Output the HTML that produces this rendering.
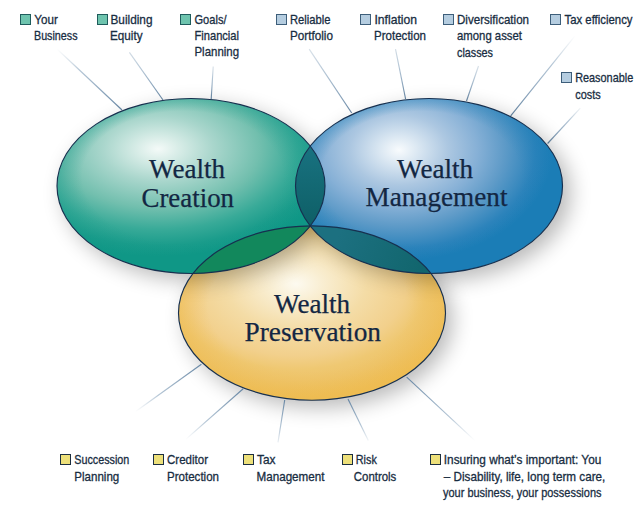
<!DOCTYPE html>
<html><head><meta charset="utf-8">
<style>
html,body{margin:0;padding:0;background:#fff;width:643px;height:512px;overflow:hidden}
svg{display:block}
.lb{font-family:"Liberation Sans",sans-serif;font-size:12.6px;fill:#182d42;stroke:#182d42;stroke-width:0.3}
.big{font-family:"Liberation Serif",serif;font-size:27px;fill:#132743;stroke:#132743;stroke-width:0.25}
</style></head><body>
<svg width="643" height="512" viewBox="0 0 643 512">
<defs>
  <radialGradient id="gT" gradientUnits="userSpaceOnUse" cx="158" cy="149" r="185" gradientTransform="translate(158 149) scale(1 0.58) translate(-158 -149)">
    <stop offset="0" stop-color="#f4faf8"/>
    <stop offset="0.1" stop-color="#dbeee9"/>
    <stop offset="0.3" stop-color="#a9d6cc"/>
    <stop offset="0.55" stop-color="#72bfae"/>
    <stop offset="0.75" stop-color="#38aa98"/>
    <stop offset="0.9" stop-color="#1a9c8b"/>
    <stop offset="1" stop-color="#0f9786"/>
  </radialGradient>
  <radialGradient id="gB" gradientUnits="userSpaceOnUse" cx="399" cy="150" r="175" gradientTransform="translate(399 150) scale(1 0.72) translate(-399 -150)">
    <stop offset="0" stop-color="#f8fbfd"/>
    <stop offset="0.1" stop-color="#dde9f3"/>
    <stop offset="0.28" stop-color="#acc7e1"/>
    <stop offset="0.45" stop-color="#86b0d6"/>
    <stop offset="0.6" stop-color="#5f9bc8"/>
    <stop offset="0.78" stop-color="#2c83bb"/>
    <stop offset="0.88" stop-color="#1b7db6"/>
    <stop offset="1" stop-color="#1b7db6"/>
  </radialGradient>
  <radialGradient id="gY" gradientUnits="userSpaceOnUse" cx="296" cy="284" r="175" gradientTransform="translate(296 284) scale(1 0.65) translate(-296 -284)">
    <stop offset="0" stop-color="#fdfaf0"/>
    <stop offset="0.15" stop-color="#f9eed2"/>
    <stop offset="0.4" stop-color="#f4dca6"/>
    <stop offset="0.63" stop-color="#f2d08c"/>
    <stop offset="0.75" stop-color="#efc872"/>
    <stop offset="0.85" stop-color="#eec46a"/>
    <stop offset="1" stop-color="#edbd55"/>
  </radialGradient>
  <radialGradient id="rT" gradientUnits="userSpaceOnUse" cx="191" cy="186" r="134" fx="158" fy="129.3" gradientTransform="translate(191 186) scale(1 0.653) translate(-191 -186)">
    <stop offset="0" stop-color="#0f9786" stop-opacity="0"/>
    <stop offset="0.75" stop-color="#0f9786" stop-opacity="0"/>
    <stop offset="1" stop-color="#0f9786" stop-opacity="0.35"/>
  </radialGradient>
  <radialGradient id="rB" gradientUnits="userSpaceOnUse" cx="429" cy="186" r="133.5" fx="398" fy="131.1" gradientTransform="translate(429 186) scale(1 0.6554) translate(-429 -186)">
    <stop offset="0" stop-color="#1b7db6" stop-opacity="0"/>
    <stop offset="0.75" stop-color="#1b7db6" stop-opacity="0"/>
    <stop offset="1" stop-color="#1b7db6" stop-opacity="0.4"/>
  </radialGradient>
  <radialGradient id="rY" gradientUnits="userSpaceOnUse" cx="312" cy="313" r="133.5" fx="297" fy="270.1" gradientTransform="translate(312 313) scale(1 0.6532) translate(-312 -313)">
    <stop offset="0" stop-color="#efbb4e" stop-opacity="0"/>
    <stop offset="0.75" stop-color="#efbb4e" stop-opacity="0"/>
    <stop offset="1" stop-color="#efbb4e" stop-opacity="0.5"/>
  </radialGradient>
  <filter id="sh" x="-30%" y="-30%" width="160%" height="160%">
    <feGaussianBlur stdDeviation="10.5"/>
  </filter>
  <clipPath id="cT"><ellipse cx="191" cy="186" rx="134" ry="87.5"/></clipPath>
  <clipPath id="cB"><ellipse cx="429" cy="186" rx="133.5" ry="87.5"/></clipPath>
  <clipPath id="cY"><ellipse cx="312" cy="313" rx="133.5" ry="87.2"/></clipPath>
  <linearGradient id="ln0" gradientUnits="userSpaceOnUse" x1="57" y1="49" x2="122" y2="110"><stop offset="0" stop-color="#b3c4d3" stop-opacity="0.0"/><stop offset="0.35" stop-color="#9cb3c8" stop-opacity="0.75"/><stop offset="1" stop-color="#6585a3"/></linearGradient>
<linearGradient id="ln1" gradientUnits="userSpaceOnUse" x1="129.4" y1="52.3" x2="163" y2="100"><stop offset="0" stop-color="#b3c4d3" stop-opacity="0.6"/><stop offset="0.35" stop-color="#9cb3c8" stop-opacity="0.75"/><stop offset="1" stop-color="#6585a3"/></linearGradient>
<linearGradient id="ln2" gradientUnits="userSpaceOnUse" x1="213.2" y1="66.5" x2="211.2" y2="99"><stop offset="0" stop-color="#b3c4d3" stop-opacity="0.5"/><stop offset="0.35" stop-color="#9cb3c8" stop-opacity="0.75"/><stop offset="1" stop-color="#6585a3"/></linearGradient>
<linearGradient id="ln3" gradientUnits="userSpaceOnUse" x1="309.2" y1="49.1" x2="351.7" y2="113"><stop offset="0" stop-color="#b3c4d3" stop-opacity="0.5"/><stop offset="0.35" stop-color="#9cb3c8" stop-opacity="0.75"/><stop offset="1" stop-color="#6585a3"/></linearGradient>
<linearGradient id="ln4" gradientUnits="userSpaceOnUse" x1="395.5" y1="49.1" x2="405.6" y2="99"><stop offset="0" stop-color="#b3c4d3" stop-opacity="0.6"/><stop offset="0.35" stop-color="#9cb3c8" stop-opacity="0.75"/><stop offset="1" stop-color="#6585a3"/></linearGradient>
<linearGradient id="ln5" gradientUnits="userSpaceOnUse" x1="478.5" y1="66" x2="466.5" y2="101"><stop offset="0" stop-color="#b3c4d3" stop-opacity="0.5"/><stop offset="0.35" stop-color="#9cb3c8" stop-opacity="0.75"/><stop offset="1" stop-color="#6585a3"/></linearGradient>
<linearGradient id="ln6" gradientUnits="userSpaceOnUse" x1="575.2" y1="35.7" x2="510.7" y2="115.8"><stop offset="0" stop-color="#b3c4d3" stop-opacity="0.0"/><stop offset="0.35" stop-color="#9cb3c8" stop-opacity="0.75"/><stop offset="1" stop-color="#6585a3"/></linearGradient>
<linearGradient id="ln7" gradientUnits="userSpaceOnUse" x1="580.3" y1="108.1" x2="547.6" y2="143.5"><stop offset="0" stop-color="#b3c4d3" stop-opacity="0.2"/><stop offset="0.35" stop-color="#9cb3c8" stop-opacity="0.75"/><stop offset="1" stop-color="#6585a3"/></linearGradient>
<linearGradient id="ln8" gradientUnits="userSpaceOnUse" x1="135.3" y1="411.8" x2="201.4" y2="364.3"><stop offset="0" stop-color="#b3c4d3" stop-opacity="0.0"/><stop offset="0.35" stop-color="#9cb3c8" stop-opacity="0.75"/><stop offset="1" stop-color="#6585a3"/></linearGradient>
<linearGradient id="ln9" gradientUnits="userSpaceOnUse" x1="185.5" y1="439.6" x2="243.2" y2="388.8"><stop offset="0" stop-color="#b3c4d3" stop-opacity="0.0"/><stop offset="0.35" stop-color="#9cb3c8" stop-opacity="0.75"/><stop offset="1" stop-color="#6585a3"/></linearGradient>
<linearGradient id="ln10" gradientUnits="userSpaceOnUse" x1="278" y1="442.3" x2="284.7" y2="400"><stop offset="0" stop-color="#b3c4d3" stop-opacity="0.3"/><stop offset="0.35" stop-color="#9cb3c8" stop-opacity="0.75"/><stop offset="1" stop-color="#6585a3"/></linearGradient>
<linearGradient id="ln11" gradientUnits="userSpaceOnUse" x1="368.3" y1="440.6" x2="348" y2="399.1"><stop offset="0" stop-color="#b3c4d3" stop-opacity="0.2"/><stop offset="0.35" stop-color="#9cb3c8" stop-opacity="0.75"/><stop offset="1" stop-color="#6585a3"/></linearGradient>
<linearGradient id="ln12" gradientUnits="userSpaceOnUse" x1="474.9" y1="440.6" x2="406.7" y2="377.2"><stop offset="0" stop-color="#b3c4d3" stop-opacity="0.0"/><stop offset="0.35" stop-color="#9cb3c8" stop-opacity="0.75"/><stop offset="1" stop-color="#6585a3"/></linearGradient>
<linearGradient id="lTB" gradientUnits="userSpaceOnUse" x1="0" y1="150" x2="0" y2="226"><stop offset="0" stop-color="#18717f"/><stop offset="1" stop-color="#0e5f66"/></linearGradient>
<linearGradient id="lBY" gradientUnits="userSpaceOnUse" x1="340" y1="232" x2="430" y2="268"><stop offset="0" stop-color="#1c7080"/><stop offset="1" stop-color="#11656c"/></linearGradient>
</defs>
<!-- shadows -->
<g filter="url(#sh)" fill="#000" opacity="0.28">
  <ellipse cx="319" cy="320" rx="133.5" ry="87.2"/>
</g>
<!-- lines -->
<g stroke-width="1.15" fill="none">
  <line x1="57" y1="49" x2="122" y2="110" stroke="url(#ln0)"/>
  <line x1="129.4" y1="52.3" x2="163" y2="100" stroke="url(#ln1)"/>
  <line x1="213.2" y1="66.5" x2="211.2" y2="99" stroke="url(#ln2)"/>
  <line x1="309.2" y1="49.1" x2="351.7" y2="113" stroke="url(#ln3)"/>
  <line x1="395.5" y1="49.1" x2="405.6" y2="99" stroke="url(#ln4)"/>
  <line x1="478.5" y1="66" x2="466.5" y2="101" stroke="url(#ln5)"/>
  <line x1="575.2" y1="35.7" x2="510.7" y2="115.8" stroke="url(#ln6)"/>
  <line x1="580.3" y1="108.1" x2="547.6" y2="143.5" stroke="url(#ln7)"/>
  <line x1="135.3" y1="411.8" x2="201.4" y2="364.3" stroke="url(#ln8)"/>
  <line x1="185.5" y1="439.6" x2="243.2" y2="388.8" stroke="url(#ln9)"/>
  <line x1="278" y1="442.3" x2="284.7" y2="400" stroke="url(#ln10)"/>
  <line x1="368.3" y1="440.6" x2="348" y2="399.1" stroke="url(#ln11)"/>
  <line x1="474.9" y1="440.6" x2="406.7" y2="377.2" stroke="url(#ln12)"/>
</g>
<!-- ellipses -->
<ellipse cx="312" cy="313" rx="133.5" ry="87.2" fill="url(#gY)"/>
<ellipse cx="312" cy="313" rx="133.5" ry="87.2" fill="url(#rY)"/>
<g filter="url(#sh)" fill="#000" opacity="0.28">
  <ellipse cx="198" cy="193" rx="134" ry="87.5"/>
  <ellipse cx="437" cy="193" rx="133.5" ry="87.5"/>
</g>
<ellipse cx="191" cy="186" rx="134" ry="87.5" fill="url(#gT)"/>
<ellipse cx="191" cy="186" rx="134" ry="87.5" fill="url(#rT)"/>
<ellipse cx="429" cy="186" rx="133.5" ry="87.5" fill="url(#gB)"/>
<ellipse cx="429" cy="186" rx="133.5" ry="87.5" fill="url(#rB)"/>
<!-- lenses -->
<g clip-path="url(#cT)"><ellipse cx="429" cy="186" rx="133.5" ry="87.5" fill="url(#lTB)"/></g>
<g clip-path="url(#cT)"><ellipse cx="312" cy="313" rx="133.5" ry="87.2" fill="#12885c"/></g>
<g clip-path="url(#cB)"><ellipse cx="312" cy="313" rx="133.5" ry="87.2" fill="url(#lBY)"/></g>
<g fill="none" stroke="#17304f" stroke-width="1.15">
  <ellipse cx="191" cy="186" rx="134" ry="87.5"/>
  <ellipse cx="429" cy="186" rx="133.5" ry="87.5"/>
  <ellipse cx="312" cy="313" rx="133.5" ry="87.2"/>
</g>
<!-- big text -->
<g class="big">
  <text x="149" y="178" textLength="76" lengthAdjust="spacingAndGlyphs">Wealth</text>
  <text x="141.5" y="207" textLength="92.5" lengthAdjust="spacingAndGlyphs">Creation</text>
  <text x="397" y="177.5" textLength="76" lengthAdjust="spacingAndGlyphs">Wealth</text>
  <text x="365.5" y="206" textLength="142" lengthAdjust="spacingAndGlyphs">Management</text>
  <text x="274" y="312.5" textLength="76" lengthAdjust="spacingAndGlyphs">Wealth</text>
  <text x="244.5" y="341" textLength="136.5" lengthAdjust="spacingAndGlyphs">Preservation</text>
</g>
<!-- squares -->
<g stroke-width="1">
  <g fill="#6ec4ae" stroke="#1f5c5c">
    <rect x="20.5" y="14.5" width="10" height="10"/>
    <rect x="97.5" y="14.5" width="10" height="10"/>
    <rect x="180.5" y="14.5" width="10" height="10"/>
  </g>
  <g fill="#b5cde0" stroke="#3d5e7a">
    <rect x="276.5" y="14.5" width="10" height="10"/>
    <rect x="360.5" y="14.5" width="10" height="10"/>
    <rect x="443.5" y="14.5" width="10" height="10"/>
    <rect x="550.5" y="14.5" width="10" height="10"/>
    <rect x="561.5" y="72.5" width="10" height="10"/>
  </g>
  <g fill="#ede07a" stroke="#1c2e40">
    <rect x="60.5" y="454.5" width="10" height="10"/>
    <rect x="153.5" y="454.5" width="10" height="10"/>
    <rect x="243.5" y="454.5" width="10" height="10"/>
    <rect x="342.5" y="454.5" width="10" height="10"/>
    <rect x="430.5" y="454.5" width="10" height="10"/>
  </g>
</g>
<!-- labels -->
<g class="lb" lengthAdjust="spacingAndGlyphs">
  <text x="34.3" y="23.7" textLength="23.5" lengthAdjust="spacingAndGlyphs">Your</text>
  <text x="34" y="40.2" textLength="43.5" lengthAdjust="spacingAndGlyphs">Business</text>
  <text x="110.5" y="23.7" textLength="42" lengthAdjust="spacingAndGlyphs">Building</text>
  <text x="110" y="40.2" textLength="32.5" lengthAdjust="spacingAndGlyphs">Equity</text>
  <text x="194.5" y="23.5" textLength="32" lengthAdjust="spacingAndGlyphs">Goals/</text>
  <text x="194.5" y="40" textLength="44.5" lengthAdjust="spacingAndGlyphs">Financial</text>
  <text x="194.5" y="56.3" textLength="44.5" lengthAdjust="spacingAndGlyphs">Planning</text>
  <text x="290" y="23.7" textLength="40.5" lengthAdjust="spacingAndGlyphs">Reliable</text>
  <text x="290" y="40.2" textLength="43" lengthAdjust="spacingAndGlyphs">Portfolio</text>
  <text x="374.5" y="23.7" textLength="42.5" lengthAdjust="spacingAndGlyphs">Inflation</text>
  <text x="374" y="40.2" textLength="52" lengthAdjust="spacingAndGlyphs">Protection</text>
  <text x="457" y="23.7" textLength="72" lengthAdjust="spacingAndGlyphs">Diversification</text>
  <text x="457" y="40.2" textLength="65" lengthAdjust="spacingAndGlyphs">among asset</text>
  <text x="457" y="56.5" textLength="36" lengthAdjust="spacingAndGlyphs">classes</text>
  <text x="564.5" y="23.7" textLength="68" lengthAdjust="spacingAndGlyphs">Tax efficiency</text>
  <text x="575.2" y="82.3" textLength="58" lengthAdjust="spacingAndGlyphs">Reasonable</text>
  <text x="575.2" y="98.7" textLength="25.5" lengthAdjust="spacingAndGlyphs">costs</text>
  <text x="74.3" y="464.3" textLength="55" lengthAdjust="spacingAndGlyphs">Succession</text>
  <text x="74.3" y="480.7" textLength="45" lengthAdjust="spacingAndGlyphs">Planning</text>
  <text x="167" y="464.3" textLength="41" lengthAdjust="spacingAndGlyphs">Creditor</text>
  <text x="167" y="480.7" textLength="52" lengthAdjust="spacingAndGlyphs">Protection</text>
  <text x="257" y="464.3" textLength="18.5" lengthAdjust="spacingAndGlyphs">Tax</text>
  <text x="256.5" y="480.7" textLength="68" lengthAdjust="spacingAndGlyphs">Management</text>
  <text x="355.8" y="464.3" textLength="21" lengthAdjust="spacingAndGlyphs">Risk</text>
  <text x="353.8" y="480.7" textLength="42.5" lengthAdjust="spacingAndGlyphs">Controls</text>
  <text x="443.8" y="464.3" textLength="157.5" lengthAdjust="spacingAndGlyphs">Insuring what’s important: You</text>
  <text x="443.8" y="480.7" textLength="161.5" lengthAdjust="spacingAndGlyphs">– Disability, life, long term care,</text>
  <text x="443" y="497" textLength="158.5" lengthAdjust="spacingAndGlyphs">your business, your possessions</text>
</g>
</svg>
</body></html>
